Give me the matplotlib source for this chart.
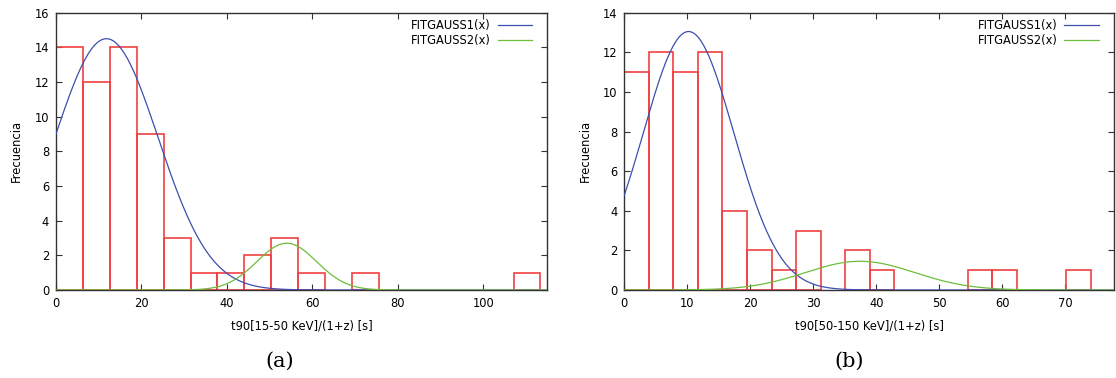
# histogramas t90 en reposo con ajuste de dos gaussianas

import numpy as np
import matplotlib
matplotlib.use("Agg")
import matplotlib.pyplot as plt

# panel (a): t90[15-50 KeV]/(1+z)
counts_a = [14, 12, 14, 9, 3, 1, 1, 2, 3, 1, 0, 1, 0, 0, 0, 0, 0, 1]
tmax_a = 113.4
gauss1_a = [14.5, 11.8, 12.1]   # amplitud, media, sigma
gauss2_a = [2.7, 54.0, 7.0]

# panel (b): t90[50-150 KeV]/(1+z)
counts_b = [11, 12, 11, 12, 4, 2, 1, 3, 0, 2, 1, 0, 0, 0, 1, 1, 0, 0, 1]
tmax_b = 74.0
gauss1_b = [13.05, 10.2, 7.2]
gauss2_b = [1.45, 37.4, 8.7]

xlabels = ["t90[15-50 KeV]/(1+z) [s]", "t90[50-150 KeV]/(1+z) [s]"]
captions = ["(a)", "(b)"]

plt.rcParams["font.family"] = "DejaVu Sans"
plt.rcParams["font.size"] = 8.3

RED = "#f24040"
BLUE = "#3c4fae"
GREEN = "#6cbf3c"


def gauss(x, p):
    return p[0] * np.exp(-(x - p[1]) ** 2 / (2 * p[2] ** 2))


def panel(ax, counts, tmax, g1, g2, xlim, ylim, xstep, xlabel):
    counts = np.array(counts)
    w = tmax / len(counts)
    left = np.arange(len(counts)) * w
    nz = counts > 0
    ax.bar(left[nz], counts[nz], width=w, align="edge", fill=False,
           edgecolor=RED, lw=1.2, zorder=2)

    x = np.linspace(0, xlim, 800)
    ax.plot(x, gauss(x, g1), color=BLUE, lw=0.9, label="FITGAUSS1(x)", zorder=3)
    ax.plot(x, gauss(x, g2), color=GREEN, lw=0.9, label="FITGAUSS2(x)", zorder=3)

    ax.set_xlim(0, xlim)
    ax.set_ylim(0, ylim)
    ax.set_xticks(np.arange(0, xlim, xstep))
    ax.set_yticks(np.arange(0, ylim + 1, 2))
    ax.tick_params(direction="in", top=True, right=True, length=4,
                   width=0.8, color="#333333", pad=5)
    for s in ax.spines.values():
        s.set_color("#333333")
        s.set_linewidth(1.0)
    ax.set_xlabel(xlabel, labelpad=7)
    ax.set_ylabel("Frecuencia", labelpad=8)
    ax.legend(loc="upper right", bbox_to_anchor=(0.988, 1.012), frameon=False,
              markerfirst=False, handlelength=3.0, handletextpad=0.6,
              labelspacing=0.25, borderaxespad=0.4)


fig = plt.figure(figsize=(11.16, 3.78), dpi=100)
ax1 = fig.add_axes([0.0502, 0.2328, 0.4402, 0.7336])
ax2 = fig.add_axes([0.5594, 0.2328, 0.4388, 0.7336])

panel(ax1, counts_a, tmax_a, gauss1_a, gauss2_a, 115.0, 16, 20, xlabels[0])
panel(ax2, counts_b, tmax_b, gauss1_b, gauss2_b, 77.7, 14, 10, xlabels[1])

fig.text(280 / 1116, 1 - 361 / 378, captions[0], ha="center", va="center",
         family="DejaVu Serif", fontsize=15)
fig.text(849 / 1116, 1 - 361 / 378, captions[1], ha="center", va="center",
         family="DejaVu Serif", fontsize=15)

plt.savefig("out.png", dpi=100)
